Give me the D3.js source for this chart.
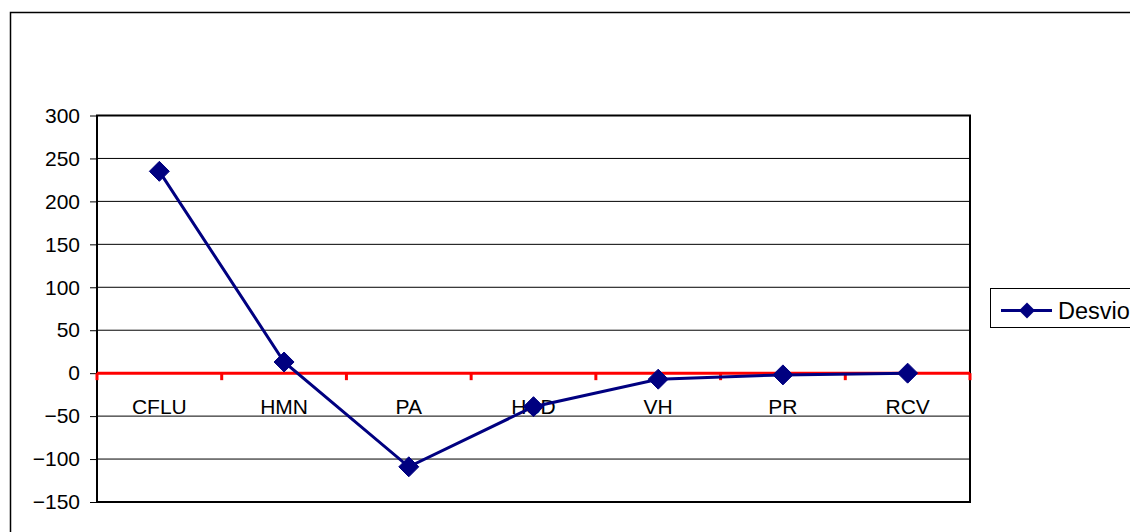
<!DOCTYPE html>
<html>
<head>
<meta charset="utf-8">
<script src="https://cdn.jsdelivr.net/npm/d3@7"></script>
<style>
  html, body { margin: 0; padding: 0; background: #fff; }
  svg { display: block; }
  text { font-family: "Liberation Sans", Arial, sans-serif; fill: #000; }
</style>
</head>
<body>
<svg id="chart" width="1130" height="532"></svg>
<script>
const categories = ["CFLU", "HMN", "PA", "HSD", "VH", "PR", "RCV"];
const desvio = [235, 13, -109, -39, -7, -2, 0];
const yTicks = [-150, -100, -50, 0, 50, 100, 150, 200, 250, 300];
const seriesName = "Desvio";

const svg = d3.select("#chart");
const plot = { left: 97, right: 970, top: 115.5, bottom: 502 };

// outer chart border (extends beyond viewport on right/bottom)
svg.append("rect")
  .attr("x", 10.5).attr("y", 12.5)
  .attr("width", 1200).attr("height", 600)
  .attr("fill", "#fff").attr("stroke", "#000").attr("stroke-width", 1.5);

const x = d3.scaleBand().domain(categories).range([plot.left, plot.right]).padding(0);
const y = d3.scaleLinear().domain([-150, 300]).range([plot.bottom, plot.top]);
const cx = d => x(d) + x.bandwidth() / 2;

// gridlines
svg.append("g")
  .selectAll("line")
  .data(yTicks.filter(t => t !== 0 && t !== -150 && t !== 300))
  .join("line")
  .attr("x1", plot.left).attr("x2", plot.right)
  .attr("y1", d => y(d)).attr("y2", d => y(d))
  .attr("stroke", "#000").attr("stroke-width", 1);

// y axis
const yAxis = d3.axisLeft(y).tickValues(yTicks).tickSize(7).tickPadding(10).tickFormat(d3.format("d"));
const gy = svg.append("g").attr("transform", `translate(${plot.left},0)`).call(yAxis);
gy.select(".domain").remove();
gy.selectAll(".tick line").attr("stroke", "#000").attr("stroke-width", 1);
gy.selectAll(".tick text")
  .attr("font-size", 21)
  .attr("font-family", "Liberation Sans, Arial, sans-serif")
  .attr("fill", "#000");

// plot border
svg.append("rect")
  .attr("x", plot.left).attr("y", plot.top)
  .attr("width", plot.right - plot.left).attr("height", plot.bottom - plot.top)
  .attr("fill", "none").attr("stroke", "#000").attr("stroke-width", 2);

// red zero axis with ticks at category boundaries
const y0 = y(0);
svg.append("line")
  .attr("x1", plot.left).attr("x2", plot.right)
  .attr("y1", y0).attr("y2", y0)
  .attr("stroke", "#ff0000").attr("stroke-width", 3);
const boundaries = categories.map(c => x(c)).concat([plot.right]);
svg.append("g").selectAll("line")
  .data(boundaries)
  .join("line")
  .attr("x1", d => d).attr("x2", d => d)
  .attr("y1", y0).attr("y2", y0 + 7)
  .attr("stroke", "#ff0000").attr("stroke-width", 3);

// category labels
svg.append("g").selectAll("text")
  .data(categories)
  .join("text")
  .attr("x", d => cx(d))
  .attr("y", y0 + 41)
  .attr("text-anchor", "middle")
  .attr("font-size", 21)
  .text(d => d);

// series line
const pts = categories.map((c, i) => [cx(c), y(desvio[i])]);
svg.append("path")
  .attr("d", d3.line()(pts))
  .attr("fill", "none").attr("stroke", "#000080").attr("stroke-width", 3);

const diamond = (s) => `M0,${-s}L${s},0L0,${s}L${-s},0Z`;
svg.append("g").selectAll("path")
  .data(pts)
  .join("path")
  .attr("transform", d => `translate(${d[0]},${d[1]})`)
  .attr("d", diamond(10))
  .attr("fill", "#000080").attr("stroke", "#000080").attr("stroke-width", 1);

// legend
const lg = svg.append("g");
lg.append("rect")
  .attr("x", 990.5).attr("y", 288.5)
  .attr("width", 300).attr("height", 39)
  .attr("fill", "#fff").attr("stroke", "#000").attr("stroke-width", 1);
lg.append("line")
  .attr("x1", 1001).attr("x2", 1052).attr("y1", 310.5).attr("y2", 310.5)
  .attr("stroke", "#000080").attr("stroke-width", 3);
lg.append("path")
  .attr("transform", "translate(1027,310.5)")
  .attr("d", diamond(8))
  .attr("fill", "#000080");
lg.append("text")
  .attr("x", 1058).attr("y", 319)
  .attr("font-size", 23.5)
  .text(seriesName);
</script>
</body>
</html>
